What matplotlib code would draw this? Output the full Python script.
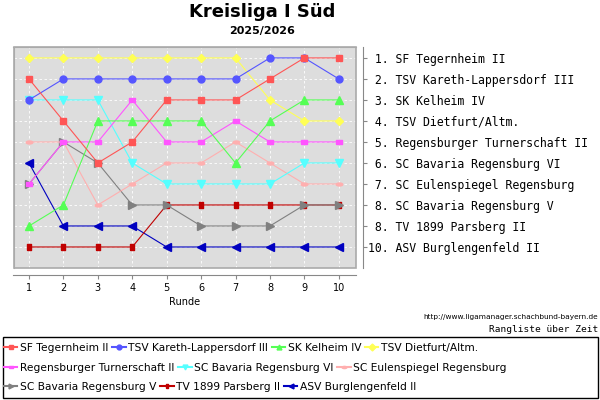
import numpy as np
import matplotlib
matplotlib.use('Agg')
import matplotlib.pyplot as plt
from matplotlib.patches import Rectangle
from matplotlib.lines import Line2D

# Daten
runden = [1, 2, 3, 4, 5, 6, 7, 8, 9, 10]
mannschaften = ["SF Tegernheim II", "TSV Kareth-Lappersdorf III", "SK Kelheim IV",
                "TSV Dietfurt/Altm.", "Regensburger Turnerschaft II",
                "SC Bavaria Regensburg VI", "SC Eulenspiegel Regensburg",
                "SC Bavaria Regensburg V", "TV 1899 Parsberg II", "ASV Burglengenfeld II"]
tabelle_rang = [1, 2, 3, 4, 5, 6, 7, 8, 8, 10]

tegernheim = [2, 4, 6, 5, 3, 3, 3, 2, 1, 1]
kareth = [3, 2, 2, 2, 2, 2, 2, 1, 1, 2]
kelheim = [9, 8, 4, 4, 4, 4, 6, 4, 3, 3]
dietfurt = [1, 1, 1, 1, 1, 1, 1, 3, 4, 4]
turnerschaft = [7, 5, 5, 3, 5, 5, 4, 5, 5, 5]
bavaria6 = [3, 3, 3, 6, 7, 7, 7, 7, 6, 6]
eulenspiegel = [5, 5, 8, 7, 6, 6, 5, 6, 7, 7]
bavaria5 = [7, 5, 6, 8, 8, 9, 9, 9, 8, 8]
parsberg = [10, 10, 10, 10, 8, 8, 8, 8, 8, 8]
burglengenfeld = [6, 9, 9, 9, 10, 10, 10, 10, 10, 10]

verlauf = [tegernheim, kareth, kelheim, dietfurt, turnerschaft,
           bavaria6, eulenspiegel, bavaria5, parsberg, burglengenfeld]

farben = ['#FF5555', '#5555FF', '#55FF55', '#FFFF55', '#FF55FF',
          '#55FFFF', '#FFAFAF', '#808080', '#C00000', '#0000C0']

# Formen wie im Original (Rechteck/Ellipse als eigene Marker)
t = np.linspace(0, 2 * np.pi, 25)
ellipse = list(zip(np.cos(t), 0.45 * np.sin(t)))
rect_h = [(-1, -0.55), (1, -0.55), (1, 0.55), (-1, 0.55), (-1, -0.55)]
rect_v = [(-0.5, -1), (0.5, -1), (0.5, 1), (-0.5, 1), (-0.5, -1)]
marker = ['s', 'o', '^', 'D', rect_h, 'v', ellipse, '>', rect_v, '<']
groesse = [4.8, 5.0, 5.2, 4.0, 4.8, 5.2, 4.8, 5.2, 4.8, 5.2]

fig = plt.figure(figsize=(6, 4), dpi=100)
ax = fig.add_axes([13.5 / 600, 1 - 268 / 400, (356 - 13.5) / 600, (268 - 47) / 400])
ax.set_facecolor('#DDDDDD')

for i, werte in enumerate(verlauf):
    ax.plot(runden, werte, color=farben[i], marker=marker[i], markersize=groesse[i],
            linewidth=0.8, zorder=20 - i, label=mannschaften[i])

ax.set_xlim(0.55, 10.5)
ax.set_ylim(11, 0.48)
ax.set_xticks(runden)
ax.set_yticks(range(1, 11))
ax.grid(True, color='white', linestyle=(0, (3, 3)), linewidth=0.6)
ax.set_axisbelow(True)

for s in ['left', 'top']:
    ax.spines[s].set_color('#AAAAAA')
for s in ['bottom', 'right']:
    ax.spines[s].set_position(('outward', 5))
    ax.spines[s].set_color('#888888')
ax.add_patch(Rectangle((0, 0), 1, 1, transform=ax.transAxes, fill=False,
                       edgecolor='#AAAAAA', linewidth=1.2, clip_on=False, zorder=30))

ax.yaxis.tick_right()
ax.set_yticklabels([f"{r:>2}. {m}" for r, m in zip(tabelle_rang, mannschaften)],
                   family='DejaVu Sans Mono', fontsize=8.3)
ax.tick_params(axis='y', length=3, pad=0.5, color='#888888')
ax.tick_params(axis='x', length=3, pad=3, color='#888888', labelsize=7)
ax.set_xlabel('Runde', fontsize=7, labelpad=3)

fig.text(0.437, 1 - 12 / 400, 'Kreisliga I Süd', ha='center', va='center',
         fontsize=13, fontweight='bold')
fig.text(0.437, 1 - 31 / 400, '2025/2026', ha='center', va='center',
         fontsize=8, fontweight='bold')
fig.text(0.997, 1 - 317 / 400, 'http://www.ligamanager.schachbund-bayern.de',
         ha='right', va='center', fontsize=5.3)
fig.text(0.997, 1 - 329 / 400, 'Rangliste über Zeit', ha='right', va='center',
         fontsize=6.8, family='DejaVu Sans Mono')

# Legende in drei Zeilen
handles = [Line2D([], [], color=farben[i], marker=marker[i], markersize=3.5,
                  linewidth=1.5) for i in range(10)]
zeilen = [[0, 1, 2, 3], [4, 5, 6], [7, 8, 9]]
y_zeilen = [348, 368, 387]
for z, y in zip(zeilen, y_zeilen):
    fig.legend([handles[i] for i in z], [mannschaften[i] for i in z],
               loc='center left', bbox_to_anchor=(4 / 600, 1 - y / 400),
               ncol=len(z), frameon=False, fontsize=7.7, handlelength=1.25,
               handletextpad=0.25, columnspacing=0.35, borderaxespad=0, borderpad=0)
fig.patches.append(Rectangle((3 / 600, 2 / 400), 595 / 600, 61 / 400,
                             transform=fig.transFigure, fill=False,
                             edgecolor='black', linewidth=1))

fig.savefig('out.png', dpi=100)
